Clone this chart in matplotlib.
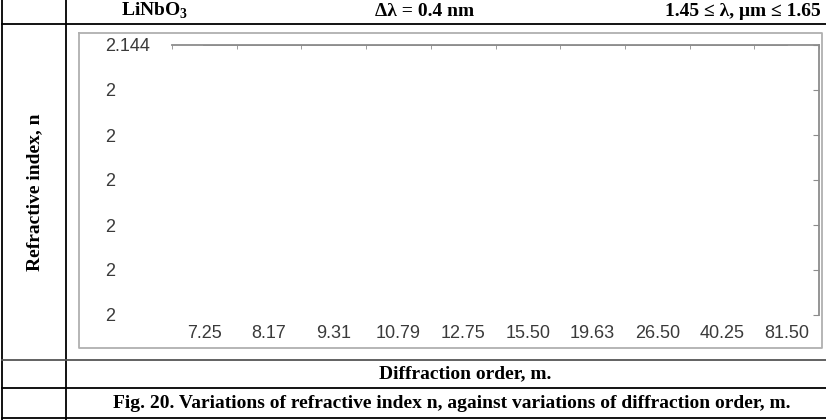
import matplotlib
matplotlib.use("Agg")
import matplotlib.pyplot as plt
from matplotlib.ticker import FixedLocator

# --- Data ---
orders = ["7.25", "8.17", "9.31", "10.79", "12.75", "15.50", "19.63", "26.50", "40.25", "81.50"]
n_values = [2.144, 2.144, 2.144, 2.144, 2.144, 2.144, 2.144, 2.144, 2.144, 2.144]
y_ticks = [2.144, 2.1435, 2.143, 2.1425, 2.142, 2.1415, 2.141]
y_tick_labels = ["2.144", "2", "2", "2", "2", "2", "2"]

plt.rcParams["mathtext.fontset"] = "custom"
plt.rcParams["mathtext.rm"] = "Liberation Serif:bold"
plt.rcParams["mathtext.bf"] = "Liberation Serif:bold"

W, H = 826, 420
fig = plt.figure(figsize=(W / 100, H / 100), dpi=100)
serif = "Liberation Serif"
sans = "Liberation Sans"

# background layer in pixel coordinates for the table frame
bg = fig.add_axes([0, 0, 1, 1])
bg.set_xlim(0, W)
bg.set_ylim(H, 0)
bg.axis("off")

black = dict(color="black", lw=1.3)
bg.plot([1.5, 1.5], [0, H], **black)
bg.plot([66, 66], [0, H], **black)
bg.plot([1.5, W], [24, 24], **black)
bg.plot([1.5, W], [360, 360], color="#555555", lw=1.3)
bg.plot([1.5, W], [388, 388], **black)
bg.plot([1.5, W], [418, 418], **black)
# chart frame
bg.plot([79, 822, 822, 79, 79], [33, 33, 348, 348, 33], color="#b0b0b0", lw=1.3)

bold = dict(family=serif, fontweight="bold", fontsize=14, color="black")
bg.text(155, 11, "LiNbO$_\\mathbf{3}$", ha="center", va="center", **bold)
bg.text(425, 11, "Δλ = 0.4 nm", ha="center", va="center", **bold)
bg.text(821, 11, "1.45 ≤ λ, μm ≤ 1.65", ha="right", va="center", **bold)
bg.text(35, 192, "Refractive index, n", ha="center", va="center", rotation=90, **bold)
bg.text(465, 374, "Diffraction order, m.", ha="center", va="center", **bold)
bg.text(452, 403, "Fig. 20. Variations of refractive index n, against variations of diffraction order, m.",
        ha="center", va="center", **bold)

# main chart
x0, x1, yt, yb = 172, 819, 45, 315
ax = fig.add_axes([x0 / W, 1 - yb / H, (x1 - x0) / W, (yb - yt) / H])
ax.patch.set_alpha(0)
ax.plot(range(len(orders)), n_values, color="#8c8c8c", lw=1.3)

ax.set_xlim(-0.5, len(orders) - 0.5)
ax.set_ylim(y_ticks[-1], y_ticks[0])
for s in ["left", "bottom"]:
    ax.spines[s].set_visible(False)
for s in ["top", "right"]:
    ax.spines[s].set_color("#8c8c8c")
    ax.spines[s].set_linewidth(1.3)

ax.set_xticks(range(len(orders)))
ax.set_xticklabels(orders, family=sans, fontsize=13, color="#3a3a3a")
ax.xaxis.set_minor_locator(FixedLocator([i - 0.5 for i in range(len(orders) + 1)]))
ax.tick_params(axis="x", which="major", bottom=False, top=False, labelbottom=True, pad=4)
ax.tick_params(axis="x", which="minor", bottom=False, top=True, direction="in",
               length=3, color="#8c8c8c")

ax.set_yticks(y_ticks)
ax.set_yticklabels(y_tick_labels, family=sans, fontsize=13, color="#3a3a3a", ha="left")
ax.tick_params(axis="y", left=False, right=True, labelleft=True, labelright=False,
               direction="in", length=4, color="#8c8c8c", pad=48)

fig.savefig("out.png", dpi=100)
